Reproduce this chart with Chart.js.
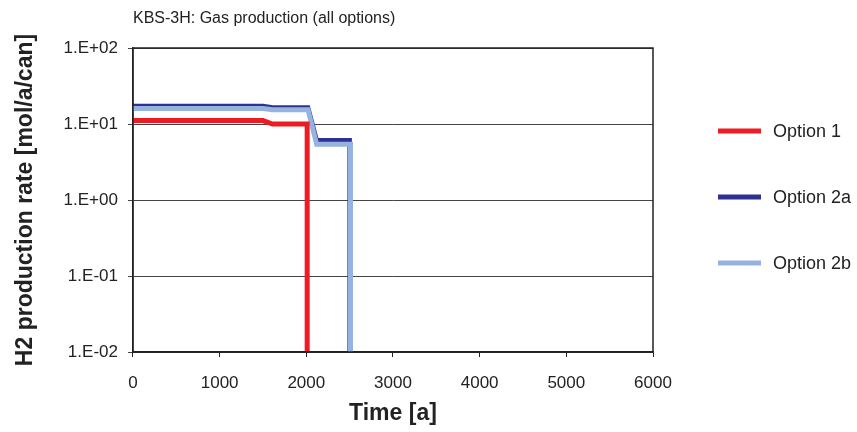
<!DOCTYPE html>
<html>
<head>
<meta charset="utf-8">
<script src="https://cdn.jsdelivr.net/npm/chart.js@4.4.0/dist/chart.umd.min.js"></script>
<style>
  html, body { margin: 0; padding: 0; background: #fff; }
  #wrap { width: 857px; height: 432px; }
</style>
</head>
<body>
<div id="wrap"><canvas id="myChart" width="857" height="432"></canvas></div>
<script>
// data
const seriesNames = ['Option 1', 'Option 2a', 'Option 2b'];
const seriesColors = ['#ED1C24', '#2E3192', '#95B3DE'];

const opt1Time = [0, 1500, 1610, 2010, 2010];
const opt1Rate = [11.1, 11.1, 10.0, 10.0, 0.01];

const opt2aTime = [0, 1500, 1610, 2020, 2120, 2500, 2500];
const opt2aRate = [17.3, 17.3, 16.5, 16.5, 6.1, 6.1, 0.01];

const opt2bTime = [0, 1500, 1610, 2020, 2120, 2510, 2510];
const opt2bRate = [16.0, 16.0, 15.4, 15.4, 5.4, 5.4, 0.01];

const yTicks = [0.01, 0.1, 1, 10, 100];
const yTickLabels = ['1.E-02', '1.E-01', '1.E+00', '1.E+01', '1.E+02'];

const FONT = "'Liberation Sans', Arial, sans-serif";

function toPoints(t, v) {
	return t.map((x, i) => ({x: x, y: v[i]}));
}

// 범례 + 제목 + 테두리 직접 그리기
const framePlugin = {
	id: 'frame',
	afterDraw(chart) {
		const ctx = chart.ctx;
		const a = chart.chartArea;
		ctx.save();
		ctx.strokeStyle = '#222';
		ctx.lineWidth = 1.5;
		ctx.strokeRect(a.left, a.top, a.right - a.left, a.bottom - a.top);

		// title
		ctx.fillStyle = '#222';
		ctx.font = '16px ' + FONT;
		ctx.textAlign = 'left';
		ctx.textBaseline = 'middle';
		ctx.fillText('KBS-3H: Gas production (all options)', a.left, 19);

		// legend
		const lx = a.right + 65;
		const ys = [a.top + 83, a.top + 149, a.top + 215];
		chart.data.datasets.forEach((ds, i) => {
			ctx.strokeStyle = ds.borderColor;
			ctx.lineWidth = 5;
			ctx.beginPath();
			ctx.moveTo(lx, ys[i]);
			ctx.lineTo(lx + 43, ys[i]);
			ctx.stroke();
			ctx.fillStyle = '#222';
			ctx.font = '18px ' + FONT;
			ctx.fillText(ds.label, lx + 55, ys[i] + 1);
		});
		ctx.restore();
	}
};

const ctx = document.getElementById('myChart');

new Chart(ctx, {
	type: 'line',
	data: {
		datasets: [
			{
				label: seriesNames[0],
				data: toPoints(opt1Time, opt1Rate),
				borderColor: seriesColors[0],
				backgroundColor: seriesColors[0],
				borderWidth: 5,
				pointRadius: 0,
				order: 1
			},
			{
				label: seriesNames[1],
				data: toPoints(opt2aTime, opt2aRate),
				borderColor: seriesColors[1],
				backgroundColor: seriesColors[1],
				borderWidth: 4.5,
				pointRadius: 0,
				order: 3
			},
			{
				label: seriesNames[2],
				data: toPoints(opt2bTime, opt2bRate),
				borderColor: seriesColors[2],
				backgroundColor: seriesColors[2],
				borderWidth: 5,
				pointRadius: 0,
				order: 2
			}
		]
	},
	options: {
		responsive: false,
		animation: false,
		layout: {
			padding: {left: 8, right: 204, top: 48, bottom: 1}
		},
		plugins: {
			legend: {display: false},
			tooltip: {enabled: false}
		},
		scales: {
			x: {
				type: 'linear',
				min: 0,
				max: 6000,
				afterFit: (axis) => { axis.height = 79; },
				ticks: {
					stepSize: 1000,
					color: '#222',
					font: {family: FONT, size: 17},
					padding: 16,
					maxRotation: 0,
					callback: (value) => String(value)
				},
				grid: {
					drawOnChartArea: false,
					tickLength: 5,
					color: '#222'
				},
				border: {color: '#222', width: 1.5},
				title: {
					display: true,
					text: 'Time [a]',
					color: '#222',
					font: {family: FONT, size: 23, weight: 'bold'},
					padding: {top: 0, bottom: 4}
				}
			},
			y: {
				type: 'logarithmic',
				min: 0.01,
				max: 100,
				afterBuildTicks: (axis) => {
					axis.ticks = yTicks.map(v => ({value: v}));
				},
				ticks: {
					color: '#222',
					font: {family: FONT, size: 17},
					padding: 10,
					callback: (value) => {
						const i = yTicks.indexOf(value);
						return i >= 0 ? yTickLabels[i] : '';
					}
				},
				grid: {
					color: '#444',
					lineWidth: 1,
					tickLength: 5
				},
				border: {color: '#222', width: 1.5},
				title: {
					display: true,
					text: 'H2 production rate [mol/a/can]',
					color: '#222',
					font: {family: FONT, size: 23, weight: 'bold'},
					padding: {bottom: 14}
				}
			}
		}
	},
	plugins: [framePlugin]
});
</script>
</body>
</html>
